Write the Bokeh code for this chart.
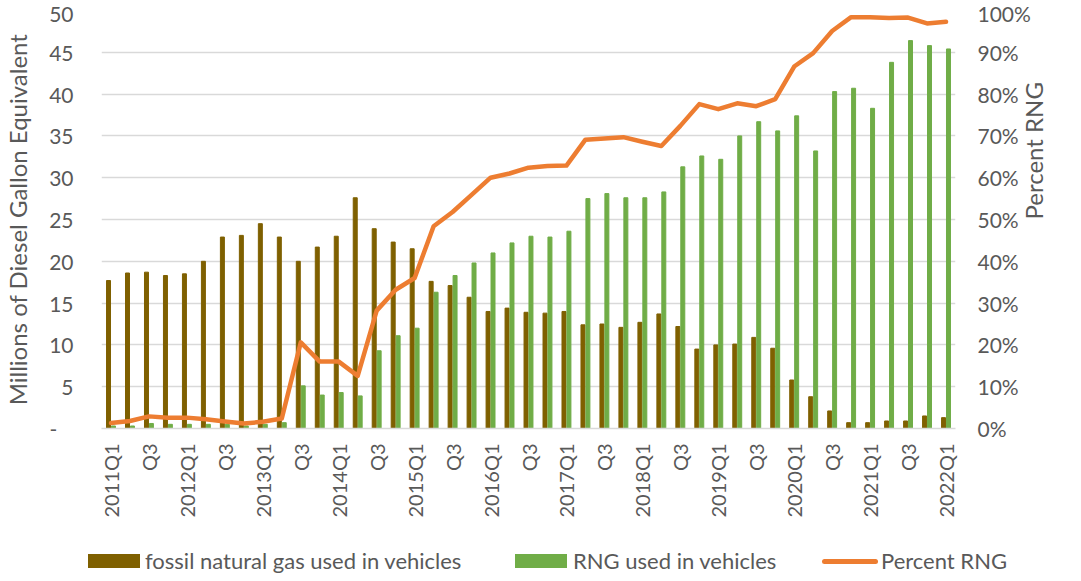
import math
from bokeh.plotting import figure
from bokeh.layouts import column
from bokeh.models import (LinearAxis, Range1d, FixedTicker, PrintfTickFormatter,
                          ColumnDataSource, Div)
from bokeh.transform import dodge
from bokeh.embed import file_html
from bokeh.resources import INLINE

quarters = [
    "2011Q1", "2011Q2", "2011Q3", "2011Q4",
    "2012Q1", "2012Q2", "2012Q3", "2012Q4",
    "2013Q1", "2013Q2", "2013Q3", "2013Q4",
    "2014Q1", "2014Q2", "2014Q3", "2014Q4",
    "2015Q1", "2015Q2", "2015Q3", "2015Q4",
    "2016Q1", "2016Q2", "2016Q3", "2016Q4",
    "2017Q1", "2017Q2", "2017Q3", "2017Q4",
    "2018Q1", "2018Q2", "2018Q3", "2018Q4",
    "2019Q1", "2019Q2", "2019Q3", "2019Q4",
    "2020Q1", "2020Q2", "2020Q3", "2020Q4",
    "2021Q1", "2021Q2", "2021Q3", "2021Q4",
    "2022Q1",
]
tick_labels = [
    "2011Q1", "", "Q3", "", "2012Q1", "", "Q3", "", "2013Q1", "", "Q3", "",
    "2014Q1", "", "Q3", "", "2015Q1", "", "Q3", "", "2016Q1", "", "Q3", "",
    "2017Q1", "", "Q3", "", "2018Q1", "", "Q3", "", "2019Q1", "", "Q3", "",
    "2020Q1", "", "Q3", "", "2021Q1", "", "Q3", "", "2022Q1",
]
fossil = [17.7, 18.6, 18.7, 18.3, 18.5, 20.0, 22.9, 23.1, 24.5, 22.9, 20.0, 21.7,
          23.0, 27.6, 23.9, 22.3, 21.5, 17.6, 17.1, 15.7, 14.0, 14.4, 13.9, 13.8,
          14.0, 12.4, 12.5, 12.1, 12.7, 13.7, 12.2, 9.5, 10.0, 10.1, 10.9, 9.6,
          5.8, 3.8, 2.1, 0.7, 0.7, 0.9, 0.9, 1.5, 1.3]
rng = [0.3, 0.3, 0.6, 0.5, 0.5, 0.5, 0.5, 0.3, 0.5, 0.7, 5.1, 4.0,
       4.3, 3.9, 9.3, 11.1, 12.0, 16.3, 18.3, 19.8, 21.0, 22.2, 23.0, 22.9,
       23.6, 27.5, 28.1, 27.6, 27.6, 28.3, 31.3, 32.6, 32.2, 35.0, 36.7, 35.6,
       37.4, 33.2, 40.3, 40.7, 38.3, 43.8, 46.4, 45.8, 45.4]
pct_rng = [1.3, 1.8, 2.9, 2.6, 2.6, 2.2, 1.7, 1.2, 1.6, 2.4, 20.6, 16.0,
           16.0, 12.6, 28.2, 33.2, 36.0, 48.4, 51.8, 55.9, 60.0, 61.0, 62.4, 62.8,
           62.9, 69.1, 69.4, 69.7, 68.6, 67.6, 72.4, 77.6, 76.4, 77.8, 77.1, 78.8,
           86.6, 89.8, 95.1, 98.4, 98.4, 98.2, 98.3, 96.9, 97.3]
series_names = ["fossil natural gas used in vehicles", "RNG used in vehicles", "Percent RNG"]

FONT = "Lato"
TXT = "#595959"
C_FOSSIL, C_RNG, C_PCT = "#7F6000", "#70AD47", "#ED7D31"

idx = list(range(len(quarters)))
src = ColumnDataSource(data=dict(i=idx, q=quarters, fossil=fossil, rng=rng, pct=pct_rng))

p = figure(width=1065, height=538, x_range=Range1d(-0.5, len(quarters) - 0.5),
           y_range=Range1d(0, 50), output_backend="svg", toolbar_location=None,
           min_border_left=96, min_border_right=106, min_border_top=10,
           min_border_bottom=110)
p.extra_y_ranges = {"pct": Range1d(0, 100)}

p.vbar(x=dodge("i", -0.13), top="fossil", width=0.21, source=src, color=C_FOSSIL)
p.vbar(x=dodge("i", 0.13), top="rng", width=0.21, source=src, color=C_RNG)
p.line(x="i", y="pct", source=src, y_range_name="pct", line_color=C_PCT,
       line_width=4.5, line_join="round", line_cap="round")

p.outline_line_color = None
p.xgrid.grid_line_color = None
p.ygrid.grid_line_color = "#D9D9D9"
p.ygrid.grid_line_width = 1.5
p.ygrid.ticker = FixedTicker(ticks=list(range(0, 55, 5)))


def style_axis(ax, standoff, size="21px"):
    ax.axis_line_color = None
    ax.major_tick_line_color = None
    ax.minor_tick_line_color = None
    ax.major_tick_out = 0
    ax.major_tick_in = 0
    ax.minor_tick_out = 0
    ax.minor_tick_in = 0
    ax.major_label_standoff = standoff
    ax.major_label_text_font = FONT
    ax.major_label_text_font_size = size
    ax.major_label_text_color = TXT
    ax.axis_label_text_font = FONT
    ax.axis_label_text_font_size = "24px"
    ax.axis_label_text_font_style = "normal"
    ax.axis_label_text_color = TXT


# left axis
ya = p.yaxis[0]
style_axis(ya, 28)
ya.ticker = FixedTicker(ticks=list(range(0, 55, 5)))
ya.major_label_overrides = {0: "-\u00a0\u00a0\u00a0"}
ya.axis_label = "Millions of Diesel Gallon Equivalent"
ya.axis_label_standoff = 14

# right axis
ra = LinearAxis(y_range_name="pct", ticker=FixedTicker(ticks=list(range(0, 110, 10))),
                formatter=PrintfTickFormatter(format="%d%%"))
style_axis(ra, 22)
ra.axis_label = "Percent RNG"
ra.axis_label_standoff = 0
ra.axis_label_orientation = math.pi / 2
p.add_layout(ra, "right")

# bottom axis: only the labelled quarters get a tick
shown = [(i, t) for i, t in zip(idx, tick_labels) if t]
xa = p.xaxis[0]
style_axis(xa, 15, "20px")
xa.ticker = FixedTicker(ticks=[i for i, _ in shown])
xa.major_label_overrides = {i: t for i, t in shown}
xa.major_label_orientation = math.pi / 2
xa.axis_line_color = "#D9D9D9"
xa.axis_line_width = 1.5

# legend strip below the chart
swatches = [("box", C_FOSSIL, 83, 140), ("box", C_RNG, 510, 568), ("line", C_PCT, 817, 876)]
parts = []
for (kind, col, gx, tx), name in zip(swatches, series_names):
    if kind == "box":
        parts.append(f'<span style="position:absolute;left:{gx}px;top:11px;width:52px;'
                     f'height:14px;background:{col};"></span>')
    else:
        parts.append(f'<span style="position:absolute;left:{gx}px;top:16px;width:56px;'
                     f'height:5px;border-radius:3px;background:{col};"></span>')
    parts.append(f'<span style="position:absolute;left:{tx}px;top:2px;line-height:32px;'
                 f'white-space:nowrap;">{name}</span>')
legend_html = (f'<div style="position:relative;width:1065px;height:27px;'
               f'font-family:Lato;font-size:22px;color:{TXT};">' + "".join(parts) + "</div>")
legend_div = Div(text=legend_html, width=1065, height=27)

open("out.html", "w").write(file_html(column(p, legend_div), INLINE))
